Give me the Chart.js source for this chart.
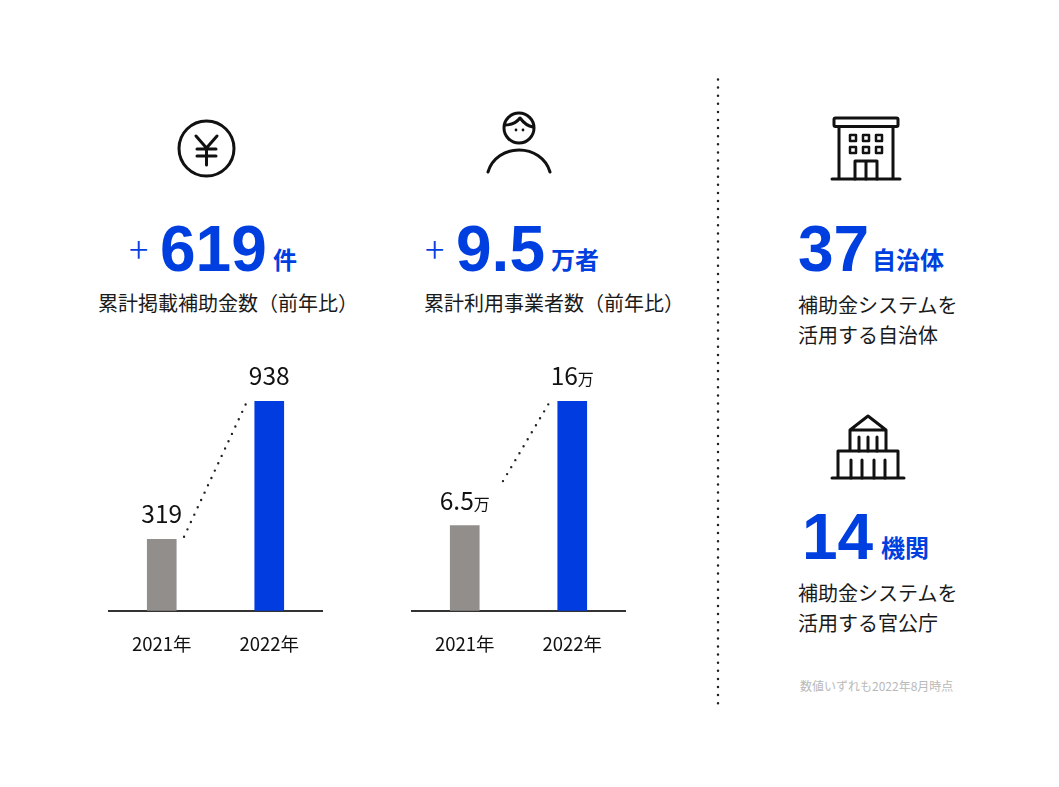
<!DOCTYPE html>
<html lang="ja">
<head>
<meta charset="utf-8">
<title>補助金システム</title>
<script src="https://cdn.jsdelivr.net/npm/chart.js@4/dist/chart.umd.min.js"></script>
<style>
  html, body { margin: 0; padding: 0; background: #fff; }
  body { width: 1059px; height: 787px; position: relative; overflow: hidden;
         font-family: "Noto Sans CJK JP", sans-serif; color: #1a1a1a; }
  .abs { position: absolute; white-space: nowrap; line-height: 1; }
  .blue { color: #003fdf; font-weight: 700; }
  .num { font-size: 64px; font-family: "Liberation Sans", sans-serif; }
  .unit { font-size: 24px; }
  .plus { font-size: 36px; font-weight: 300; color: #003fdf; }
  .lead { font-size: 20px; }
  .sub { font-size: 20px; line-height: 30px; white-space: nowrap; }
  .note { font-size: 12px; color: #b9b9b9; }
  canvas { position: absolute; }
  svg { position: absolute; left: 0; top: 0; }
  svg .i { fill: none; stroke: #111; stroke-width: 3; stroke-linecap: round; stroke-linejoin: round; }
</style>
</head>
<body>

<svg width="1059" height="787">
  <!-- divider -->
  <line x1="718" y1="79.500" x2="718" y2="705" stroke="#222" stroke-width="2.500" stroke-linecap="round" stroke-dasharray="0 8.100"/>
  <!-- yen -->
  <circle class="i" cx="206.500" cy="148.500" r="27.500"/>
  <path class="i" d="M196 136 L206.500 148 L217 136 M206.500 148 V165 M197 149 H216 M197 156 H216"/>
  <!-- person -->
  <circle class="i" cx="519" cy="128" r="15"/>
  <path class="i" d="M505 125 C512 125 517 122 520 118 C523 122 527 126 533 127"/>
  <circle cx="516" cy="130" r="1.400" fill="#111"/><circle cx="523" cy="130" r="1.400" fill="#111"/>
  <path class="i" d="M488 172 C492 158 505 150 519 150 C533 150 546 158 550 172"/>
  <!-- building -->
  <path class="i" d="M832 179 H900 M839 127 V179 M893 127 V179"/>
  <rect class="i" x="834" y="118" width="64" height="8.500" rx="1.500"/>
  <path class="i" d="M855 179 V161 H877 V179 M866 161 V179"/>
  <g class="i" style="stroke-width:2.500">
    <rect x="850" y="135" width="6" height="6"/><rect x="863" y="135" width="6" height="6"/><rect x="876" y="135" width="6" height="6"/>
    <rect x="850" y="147" width="6" height="6"/><rect x="863" y="147" width="6" height="6"/><rect x="876" y="147" width="6" height="6"/>
  </g>
  <!-- government -->
  <path class="i" d="M832 478 H904 M838 478 V451 H898 V478 M850 430 V451 M886 430 V451 M850 430 L868 416 L886 430 Z"/>
  <path class="i" d="M859 437 V451 M868 437 V451 M877 437 V451 M851 460 V478 M862 460 V478 M874 460 V478 M885 460 V478"/>
</svg>

<div class="abs plus" style="left:129px;top:229px">+</div>
<div class="abs blue num" style="left:160px;top:217px">619</div>
<div class="abs blue unit" style="left:273px;top:247px">件</div>
<div class="abs lead" style="left:98px;top:293px">累計掲載補助金数（前年比）</div>

<div class="abs plus" style="left:425px;top:229px">+</div>
<div class="abs blue num" style="left:456px;top:217px">9.5</div>
<div class="abs blue unit" style="left:551px;top:247px">万者</div>
<div class="abs lead" style="left:424px;top:293px">累計利用事業者数（前年比）</div>

<div class="abs blue num" style="left:798px;top:217px">37</div>
<div class="abs blue unit" style="left:872px;top:247px">自治体</div>
<div class="abs sub" style="left:798px;top:290px">補助金システムを<br>活用する自治体</div>

<div class="abs blue num" style="left:802px;top:505px">14</div>
<div class="abs blue unit" style="left:881px;top:535px">機関</div>
<div class="abs sub" style="left:798px;top:578px">補助金システムを<br>活用する官公庁</div>

<div class="abs note" style="left:800px;top:680px">数値いずれも2022年8月時点</div>

<canvas id="chartCount" style="left:108px;top:360px"></canvas>
<canvas id="chartUsers" style="left:411px;top:360px"></canvas>

<script>
const years = ['2021年', '2022年'];
const countValues = [319, 938];
const countLabels = ['319', '938'];
const countUnits = ['', ''];
const userValues = [6.5, 16];
const userLabels = ['6.5', '16'];
const userUnits = ['万', '万'];
const barColors = ['#928e8b', '#003ce0'];

const FONT = '"Noto Sans CJK JP", sans-serif';

// value labels above the bars, with the small unit next to the number
const valueLabels = {
  id: 'valueLabels',
  afterDatasetsDraw(chart, args, opts) {
    const { ctx, scales: { x, y } } = chart;
    ctx.save();
    ctx.fillStyle = '#111';
    ctx.textBaseline = 'alphabetic';
    opts.labels.forEach((txt, i) => {
      const unit = opts.units[i];
      ctx.font = '24.5px ' + FONT;
      const w1 = ctx.measureText(txt).width;
      ctx.font = '16px ' + FONT;
      const w2 = unit ? ctx.measureText(unit).width : 0;
      const left = x.getPixelForValue(i) - (w1 + w2) / 2;
      const base = y.getPixelForValue(opts.values[i]) - 16;
      ctx.font = '24.5px ' + FONT;
      ctx.textAlign = 'left';
      ctx.fillText(txt, left, base);
      if (unit) {
        ctx.font = '16px ' + FONT;
        ctx.fillText(unit, left + w1, base);
      }
    });
    ctx.restore();
  }
};

// dotted line going up from the top of the first bar to the second one
const growthLine = {
  id: 'growthLine',
  afterDatasetsDraw(chart, args, opts) {
    const { ctx, scales: { x, y } } = chart;
    const x0 = x.getPixelForValue(0) + opts.startGap, y0 = y.getPixelForValue(opts.values[0]);
    const x1 = x.getPixelForValue(1) - 22, y1 = y.getPixelForValue(opts.values[1]);
    const at = t => [x0 + (x1 - x0) * t, y0 + (y1 - y0) * t];
    const a = at(opts.from), b = at(opts.to);
    ctx.save();
    ctx.strokeStyle = '#222';
    ctx.lineWidth = 2.4;
    ctx.lineCap = 'round';
    ctx.setLineDash([0, 8.1]);
    ctx.beginPath();
    ctx.moveTo(a[0], a[1]);
    ctx.lineTo(b[0], b[1]);
    ctx.stroke();
    ctx.restore();
  }
};

function drawBars(id, values, labels, units, startGap, from, to) {
  const canvas = document.getElementById(id);
  canvas.width = 215;
  canvas.height = 317;
  new Chart(canvas, {
    type: 'bar',
    data: {
      labels: years,
      datasets: [{
        data: values,
        backgroundColor: barColors,
        barThickness: 29,
        borderWidth: 0
      }]
    },
    options: {
      responsive: false,
      animation: false,
      layout: { padding: { top: 41, left: 0, right: 0, bottom: 0 } },
      plugins: {
        legend: { display: false },
        tooltip: { enabled: false },
        valueLabels: { values, labels, units },
        growthLine: { values, startGap, from, to }
      },
      scales: {
        x: {
          grid: { display: false, drawTicks: false },
          border: { color: '#333', width: 2 },
          ticks: { color: '#111', padding: 22, maxRotation: 0, font: { family: FONT, size: 18.5 } }
        },
        y: { display: false, min: 0, max: Math.max(...values) }
      }
    },
    plugins: [valueLabels, growthLine]
  });
}

drawBars('chartCount', countValues, countLabels, countUnits, 21, 0.02, 0.98);
drawBars('chartUsers', userValues, userLabels, userUnits, 12, 0.357, 0.976);
</script>
</body>
</html>
